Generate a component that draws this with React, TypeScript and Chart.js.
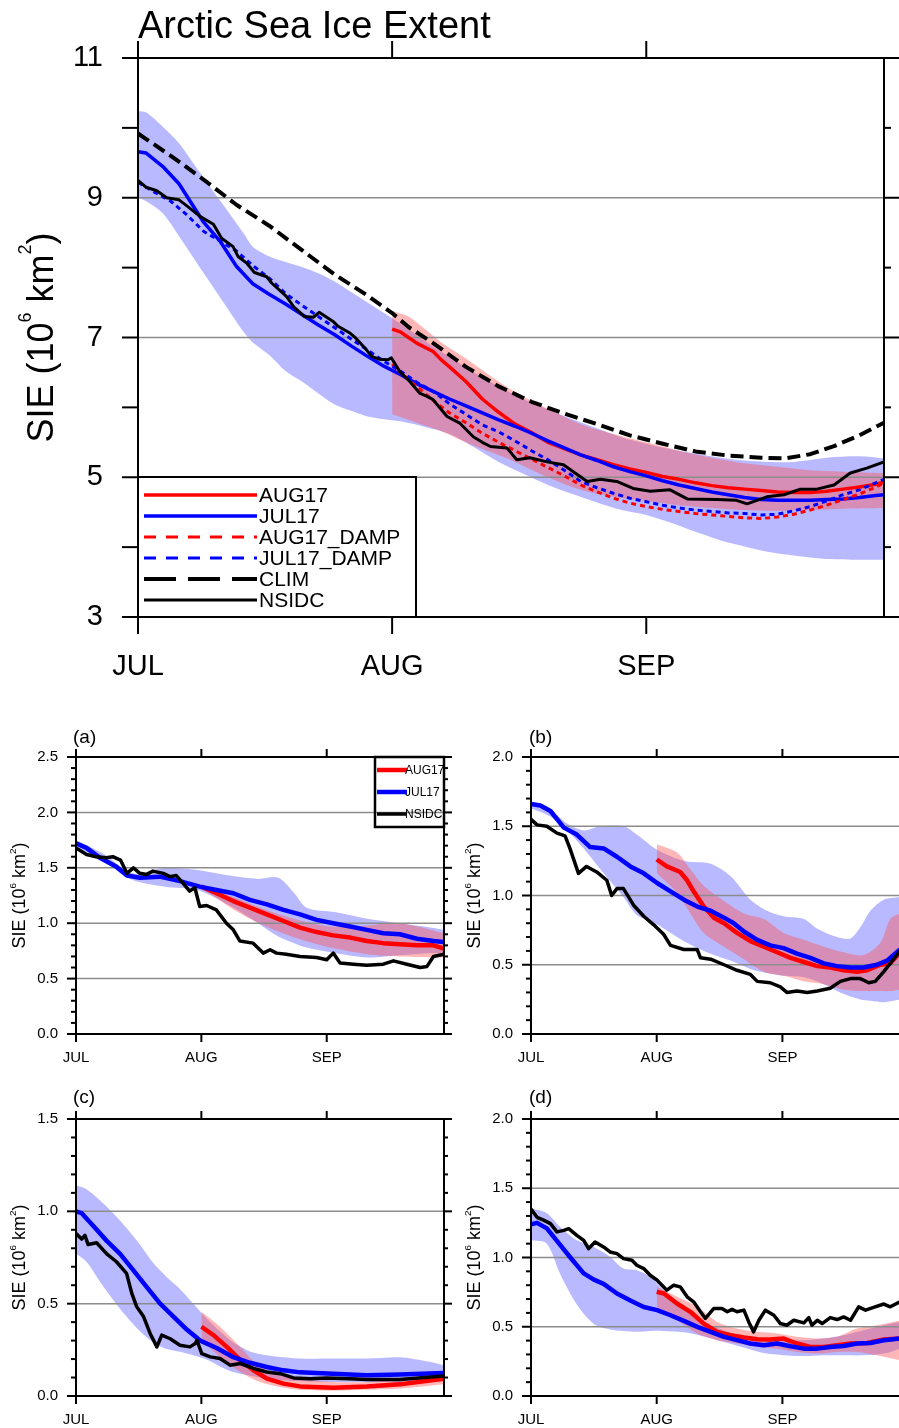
import React, { useEffect, useRef } from 'react';
import { Chart, registerables } from 'chart.js';

Chart.register(...registerables);

const FONT = '"Liberation Sans", Arial, Helvetica, sans-serif';

// ---------- axis categories / tick labels ----------
const MONTH_TICKS = [0, 31, 62];
const MONTH_LABELS = ['JUL', 'AUG', 'SEP'];
const DAY_MAX = 91;
const MAIN_Y_MAJORS = [3, 5, 7, 9, 11];
const MAIN_Y_MINORS = [4, 6, 8, 10];
const MAIN_GRID = [5, 7, 9];

// ---------- main panel data ----------
const MAIN_AUG17_DAYS = [31, 32, 33, 34, 36, 37, 38, 40, 42, 44, 46, 48, 50, 52, 54, 56, 58, 60, 62, 64, 66, 68, 70, 72, 74, 76, 78, 80, 82, 84, 86, 88, 90, 91];
const MAIN_AUG17 = [7.12, 7.08, 7.0, 6.92, 6.8, 6.68, 6.58, 6.37, 6.12, 5.93, 5.76, 5.64, 5.5, 5.41, 5.32, 5.25, 5.18, 5.12, 5.07, 5.01, 4.97, 4.92, 4.88, 4.85, 4.83, 4.81, 4.79, 4.78, 4.78, 4.8, 4.83, 4.86, 4.9, 4.93];

const MAIN_JUL17_DAYS = [0, 1, 3, 5, 8, 10, 12, 14, 16, 18, 20, 22, 24, 26, 28, 30, 32, 34, 36, 38, 40, 42, 44, 46, 48, 50, 52, 54, 56, 58, 60, 62, 64, 66, 68, 70, 72, 74, 76, 78, 80, 82, 84, 86, 88, 90, 91];
const MAIN_JUL17 = [9.66, 9.64, 9.45, 9.2, 8.65, 8.38, 8.02, 7.77, 7.62, 7.48, 7.33, 7.18, 7.04, 6.88, 6.73, 6.59, 6.47, 6.34, 6.23, 6.12, 6.02, 5.92, 5.82, 5.73, 5.63, 5.52, 5.42, 5.32, 5.24, 5.15, 5.08, 5.02, 4.95, 4.89, 4.84, 4.79, 4.75, 4.71, 4.68, 4.67, 4.67, 4.67, 4.68, 4.69, 4.71, 4.74, 4.75];

const MAIN_AUG17_DAMP_DAYS = [31, 32, 34, 36, 38, 40, 42, 44, 46, 48, 50, 52, 54, 56, 58, 60, 62, 64, 66, 68, 70, 72, 74, 76, 78, 80, 82, 84, 86, 88, 90, 91];
const MAIN_AUG17_DAMP = [6.62, 6.5, 6.3, 6.1, 5.92, 5.78, 5.63, 5.5, 5.38, 5.26, 5.14, 5.02, 4.89, 4.79, 4.7, 4.63, 4.58, 4.54, 4.51, 4.48, 4.46, 4.44, 4.42, 4.41, 4.43, 4.47, 4.53, 4.6, 4.68, 4.76, 4.86, 4.92];

const MAIN_JUL17_DAMP_DAYS = [0, 2, 4, 6, 8, 10, 12, 14, 16, 18, 20, 22, 24, 26, 28, 30, 32, 34, 36, 38, 40, 42, 44, 46, 48, 50, 52, 54, 56, 58, 60, 62, 64, 66, 68, 70, 72, 74, 76, 78, 80, 82, 84, 86, 88, 90, 91];
const MAIN_JUL17_DAMP = [9.22, 9.08, 8.95, 8.75, 8.52, 8.38, 8.24, 8.03, 7.85, 7.63, 7.46, 7.3, 7.14, 6.98, 6.82, 6.66, 6.52, 6.36, 6.23, 6.05, 5.9, 5.75, 5.65, 5.52, 5.38, 5.25, 5.1, 4.94, 4.85, 4.77, 4.7, 4.65, 4.6, 4.56, 4.53, 4.51, 4.49, 4.48, 4.46, 4.47, 4.52, 4.58, 4.66, 4.75, 4.82, 4.92, 4.97];

const MAIN_CLIM_DAYS = [0, 4, 8, 12, 16, 20, 24, 28, 31, 33, 36, 40, 44, 48, 52, 56, 60, 64, 68, 72, 76, 79, 82, 85, 88, 91];
const MAIN_CLIM = [9.92, 9.6, 9.26, 8.9, 8.6, 8.25, 7.9, 7.6, 7.35, 7.15, 6.92, 6.58, 6.3, 6.08, 5.91, 5.76, 5.6, 5.48, 5.37, 5.31, 5.28, 5.27, 5.33, 5.45, 5.6, 5.78];

const MAIN_NSIDC_DAYS = [0, 1, 2.3, 3.5, 5, 6, 7.6, 9.2, 10.2, 11.6, 12.2, 13.3, 14.2, 15.7, 16.3, 18.1, 19, 20.3, 21.4, 22.1, 23.8, 24.4, 25.9, 26.4, 27.9, 28.5, 29.4, 30.5, 30.9, 32, 33, 34.4, 35.2, 36, 37.7, 39.3, 40.9, 42, 43, 45, 46.2, 47.8, 49.9, 51.9, 53.1, 54.8, 56.4, 58.4, 60.4, 62.5, 64.9, 67, 70.6, 73, 74.3, 76.7, 78.8, 80.8, 82.8, 84.9, 86.9, 88.9, 91];
const MAIN_NSIDC = [9.25, 9.15, 9.1, 9.0, 8.97, 8.88, 8.73, 8.62, 8.42, 8.3, 8.16, 8.06, 7.93, 7.87, 7.78, 7.59, 7.44, 7.3, 7.29, 7.36, 7.23, 7.16, 7.06, 7.01, 6.82, 6.73, 6.69, 6.68, 6.71, 6.5, 6.39, 6.2, 6.16, 6.11, 5.87, 5.77, 5.58, 5.5, 5.44, 5.42, 5.25, 5.28, 5.22, 5.18, 5.08, 4.94, 4.97, 4.94, 4.84, 4.8, 4.82, 4.69, 4.68, 4.67, 4.62, 4.72, 4.75, 4.83, 4.83, 4.89, 5.06, 5.13, 5.22];

const MAIN_BLUE_BAND_DAYS = [0, 1, 3, 5, 7, 9, 11, 13, 14, 16, 18, 20, 22, 24, 26, 28, 30, 32, 35, 38, 41, 44, 47, 50, 53, 56, 59, 62, 65, 68, 71, 74, 77, 80, 84, 88, 91];
const MAIN_BLUE_HI = [10.24, 10.22, 10.02, 9.78, 9.45, 9.12, 8.8, 8.47, 8.3, 8.16, 8.08, 8.01, 7.92, 7.8, 7.65, 7.5, 7.35, 7.2, 6.95, 6.72, 6.5, 6.3, 6.12, 5.97, 5.83, 5.7, 5.57, 5.48, 5.4, 5.34, 5.28, 5.24, 5.22, 5.22, 5.28, 5.3, 5.27];
const MAIN_BLUE_LO = [9.0, 8.95, 8.78, 8.45, 8.1, 7.75, 7.4, 7.06, 6.93, 6.75, 6.52, 6.37, 6.2, 6.04, 5.95, 5.87, 5.83, 5.8, 5.72, 5.62, 5.43, 5.22, 5.05, 4.89, 4.76, 4.64, 4.53, 4.46, 4.35, 4.22, 4.1, 4.01, 3.93, 3.88, 3.83, 3.82, 3.82];

const MAIN_RED_BAND_DAYS = [31, 33, 35, 37, 40, 43, 46, 50, 54, 58, 62, 66, 70, 74, 78, 82, 86, 91];
const MAIN_RED_HI = [7.38, 7.3, 7.12, 6.93, 6.7, 6.45, 6.22, 5.98, 5.76, 5.62, 5.5, 5.38, 5.28, 5.2, 5.15, 5.1, 5.08, 5.06];
const MAIN_RED_LO = [5.9, 5.82, 5.74, 5.66, 5.5, 5.36, 5.22, 5.0, 4.82, 4.72, 4.66, 4.6, 4.56, 4.53, 4.52, 4.53, 4.55, 4.56];

// ---------- panel (a) ----------
const A_Y_MAJORS = [0, 0.5, 1.0, 1.5, 2.0, 2.5];
const A_GRID = [0.5, 1.0, 1.5, 2.0];
const A_JUL17_DAYS = [0, 2.6, 5.9, 10, 12.6, 15.8, 20.7, 25.7, 30.6, 34.7, 38.9, 43, 47.2, 51.3, 55.4, 59.5, 63.6, 67.8, 71.9, 76, 80.1, 84.3, 88.4, 91];
const A_JUL17 = [1.72, 1.68, 1.59, 1.51, 1.43, 1.41, 1.42, 1.38, 1.33, 1.3, 1.27, 1.21, 1.17, 1.12, 1.08, 1.03, 1.0, 0.97, 0.94, 0.91, 0.9, 0.86, 0.84, 0.83];
const A_AUG17_DAYS = [31, 34.7, 38.9, 43, 47.2, 51.3, 55.4, 59.5, 63.6, 67.8, 71.9, 76, 80.1, 84.3, 88.4, 91];
const A_AUG17 = [1.33, 1.27, 1.2, 1.14, 1.08, 1.02, 0.96, 0.92, 0.89, 0.87, 0.84, 0.82, 0.81, 0.8, 0.8, 0.77];
const A_NSIDC_DAYS = [0, 2.6, 5, 7.5, 9.1, 11, 12.6, 14.2, 15.8, 17.4, 19, 21.6, 23.2, 24.8, 26.5, 28.1, 29.4, 30.6, 32.3, 34.7, 37.2, 38.9, 40.5, 43.8, 46.3, 48, 49.6, 52, 55.4, 59.5, 62, 63.6, 65.3, 68.6, 71.9, 76, 78.5, 81.8, 85.1, 86.8, 88.4, 91];
const A_NSIDC = [1.68, 1.62, 1.6, 1.59, 1.6, 1.57, 1.45, 1.5, 1.45, 1.44, 1.47, 1.45, 1.42, 1.43, 1.36, 1.29, 1.32, 1.15, 1.16, 1.12, 1.0, 0.94, 0.84, 0.82, 0.73, 0.76, 0.73, 0.72, 0.7, 0.69, 0.67, 0.73, 0.64, 0.63, 0.62, 0.63, 0.66, 0.63, 0.6, 0.61, 0.7, 0.72];
const A_BLUE_BAND_DAYS = [0, 7, 14, 22, 30, 38, 45, 50, 54, 57, 64, 72, 80, 88, 91];
const A_BLUE_HI = [1.75, 1.62, 1.45, 1.5, 1.48, 1.43, 1.4, 1.41, 1.27, 1.14, 1.1, 1.04, 1.0, 0.96, 0.94];
const A_BLUE_LO = [1.69, 1.55, 1.39, 1.33, 1.3, 1.16, 1.0, 0.88, 0.82, 0.78, 0.73, 0.69, 0.71, 0.73, 0.73];
const A_RED_BAND_DAYS = [31, 40, 47, 55, 63, 72, 80, 91];
const A_RED_HI = [1.35, 1.22, 1.12, 1.03, 0.97, 0.98, 1.0, 0.91];
const A_RED_LO = [1.32, 1.1, 0.97, 0.86, 0.78, 0.72, 0.7, 0.69];

// ---------- panel (b) ----------
const B_Y_MAJORS = [0, 0.5, 1.0, 1.5, 2.0];
const B_GRID = [0.5, 1.0, 1.5];
const B_JUL17_DAYS = [0, 2.3, 4.8, 8.1, 11.3, 14.6, 17.9, 21.2, 24.5, 27.8, 31.1, 34.4, 37.7, 41, 44.3, 47.6, 50, 52.5, 55.8, 59, 62.3, 65.6, 68.9, 72.2, 75.5, 78.8, 82, 85.3, 87.8, 91];
const B_JUL17 = [1.66, 1.65, 1.61, 1.49, 1.44, 1.35, 1.34, 1.28, 1.21, 1.16, 1.09, 1.03, 0.97, 0.92, 0.89, 0.84, 0.8, 0.74, 0.68, 0.64, 0.62, 0.58, 0.55, 0.51, 0.49, 0.48, 0.48, 0.5, 0.53, 0.61];
const B_AUG17_DAYS = [31, 33.5, 36.8, 38.5, 40.1, 42.6, 45.1, 47.6, 50.8, 54.1, 57.4, 60.7, 64, 67.3, 70.6, 73.8, 77.1, 80.4, 82.9, 86.2, 88.6, 91];
const B_AUG17 = [1.26, 1.21, 1.17, 1.11, 1.03, 0.92, 0.84, 0.8, 0.73, 0.67, 0.63, 0.59, 0.55, 0.52, 0.49, 0.48, 0.46, 0.45, 0.46, 0.5, 0.51, 0.59];
const B_NSIDC_DAYS = [0, 1.5, 3.9, 6.4, 8.4, 9.6, 11.7, 13.7, 16.2, 18.7, 19.9, 21.2, 22.8, 25.3, 27.8, 30.2, 32.7, 34.4, 37.7, 41, 41.8, 44.3, 47.6, 50.8, 54.1, 55.8, 59, 61.5, 63.1, 65.6, 68.1, 70.6, 73.8, 76.3, 78.8, 81.2, 83.3, 84.9, 87, 89.4, 91];
const B_NSIDC = [1.55, 1.51, 1.5, 1.45, 1.43, 1.34, 1.16, 1.21, 1.17, 1.11, 1.0, 1.05, 1.05, 0.93, 0.85, 0.79, 0.72, 0.64, 0.61, 0.61, 0.55, 0.54, 0.5, 0.46, 0.43, 0.38, 0.37, 0.34, 0.3, 0.31, 0.3, 0.31, 0.33, 0.38, 0.4, 0.4, 0.37, 0.38, 0.45, 0.54, 0.6];
const B_BLUE_BAND_DAYS = [0, 4.8, 8.9, 13, 17.1, 22.8, 26.1, 31.1, 37.7, 44.3, 49.2, 54.1, 58.2, 62.3, 67.3, 70.6, 75.5, 78.8, 81.2, 83.7, 87, 91];
const B_BLUE_HI = [1.68, 1.62, 1.52, 1.47, 1.5, 1.5, 1.44, 1.33, 1.25, 1.23, 1.14, 0.97, 0.89, 0.85, 0.83, 0.76, 0.7, 0.69, 0.77, 0.89, 0.97, 0.99];
const B_BLUE_LO = [1.63, 1.57, 1.47, 1.34, 1.19, 0.99, 0.86, 0.79, 0.67, 0.58, 0.53, 0.47, 0.44, 0.42, 0.41, 0.38, 0.31, 0.27, 0.25, 0.24, 0.23, 0.25];
const B_RED_BAND_DAYS = [31, 36, 39.3, 42.6, 47.6, 52.5, 57.4, 62.3, 67.3, 72.2, 77.1, 82, 86.2, 88.6, 91];
const B_RED_HI = [1.37, 1.31, 1.19, 1.07, 0.96, 0.87, 0.83, 0.73, 0.68, 0.63, 0.59, 0.57, 0.66, 0.83, 0.87];
const B_RED_LO = [1.16, 1.02, 0.87, 0.73, 0.63, 0.54, 0.45, 0.42, 0.38, 0.36, 0.32, 0.31, 0.31, 0.31, 0.32];

// ---------- panel (c) ----------
const C_Y_MAJORS = [0, 0.5, 1.0, 1.5];
const C_GRID = [0.5, 1.0];
const C_JUL17_DAYS = [0, 1.4, 4.3, 7.6, 10.9, 14.2, 17.5, 20.8, 24.1, 27.4, 30.7, 34.8, 38.9, 43, 47.2, 51.3, 55.4, 63.6, 71.9, 80.1, 91];
const C_JUL17 = [1.0, 0.99, 0.92, 0.84, 0.77, 0.68, 0.59, 0.5, 0.43, 0.36, 0.3, 0.26, 0.21, 0.18, 0.157, 0.139, 0.128, 0.121, 0.112, 0.116, 0.125];
const C_AUG17_DAYS = [31, 34, 37.3, 40.6, 43.9, 47.2, 51.3, 55.4, 63.6, 71.9, 80.1, 91];
const C_AUG17 = [0.375, 0.33, 0.266, 0.194, 0.139, 0.094, 0.067, 0.052, 0.045, 0.052, 0.063, 0.094];
const C_NSIDC_DAYS = [0, 1.4, 2.2, 3, 5.1, 7.6, 10, 12.5, 13.8, 15, 16.7, 18.3, 20, 21.2, 23.3, 25.7, 28.2, 29.5, 29.9, 31.1, 33.2, 35.6, 38.1, 40.6, 43.9, 47.2, 50.5, 53.8, 57.9, 62, 67.8, 71.9, 80.1, 91];
const C_NSIDC = [0.88, 0.85, 0.87, 0.82, 0.83, 0.77, 0.727, 0.664, 0.556, 0.484, 0.43, 0.34, 0.266, 0.33, 0.31, 0.275, 0.266, 0.284, 0.302, 0.23, 0.212, 0.203, 0.167, 0.176, 0.149, 0.13, 0.121, 0.098, 0.094, 0.098, 0.094, 0.089, 0.09, 0.108];
const C_BLUE_BAND_DAYS = [0, 2.6, 5.9, 9.2, 12.5, 15.8, 19.1, 22.4, 25.7, 29, 32.3, 35.6, 38.9, 43.8, 48.8, 55.4, 63.6, 71.9, 80.1, 86.7, 91];
const C_BLUE_HI = [1.14, 1.12, 1.06, 0.99, 0.91, 0.82, 0.72, 0.645, 0.58, 0.5, 0.42, 0.35, 0.29, 0.235, 0.215, 0.203, 0.203, 0.203, 0.21, 0.188, 0.167];
const C_BLUE_LO = [0.77, 0.727, 0.62, 0.52, 0.43, 0.35, 0.29, 0.255, 0.24, 0.221, 0.197, 0.16, 0.13, 0.107, 0.089, 0.08, 0.076, 0.076, 0.076, 0.08, 0.085];
const C_RED_BAND_DAYS = [31, 35.6, 40.6, 45.5, 50.5, 55.4, 63.6, 71.9, 80.1, 91];
const C_RED_HI = [0.456, 0.375, 0.266, 0.158, 0.112, 0.094, 0.076, 0.076, 0.089, 0.121];
const C_RED_LO = [0.302, 0.212, 0.13, 0.076, 0.049, 0.034, 0.03, 0.034, 0.04, 0.063];

// ---------- panel (d) ----------
const D_Y_MAJORS = [0, 0.5, 1.0, 1.5, 2.0];
const D_GRID = [0.5, 1.0, 1.5];
const D_JUL17_DAYS = [0, 1.5, 3.9, 6.4, 9.7, 13, 15.5, 17.9, 21.2, 24.5, 27.8, 31.1, 34.4, 37.7, 41, 44.3, 47.6, 50.8, 54.1, 57.4, 60.7, 64, 67.3, 70.6, 73.8, 77.1, 80.4, 83.7, 87, 91];
const D_JUL17 = [1.24, 1.25, 1.21, 1.12, 1.0, 0.885, 0.84, 0.81, 0.74, 0.69, 0.643, 0.62, 0.583, 0.542, 0.499, 0.463, 0.427, 0.403, 0.379, 0.366, 0.379, 0.359, 0.342, 0.342, 0.354, 0.361, 0.379, 0.383, 0.403, 0.415];
const D_AUG17_DAYS = [31, 32.8, 36, 39.3, 42.6, 45.9, 49.2, 52.5, 55.8, 59, 62.3, 65.6, 68.9, 72.2, 75.5, 78.8, 82.9, 87, 91];
const D_AUG17 = [0.752, 0.74, 0.668, 0.608, 0.523, 0.463, 0.439, 0.422, 0.41, 0.408, 0.415, 0.379, 0.354, 0.354, 0.366, 0.379, 0.383, 0.408, 0.415];
const D_NSIDC_DAYS = [0, 1.5, 3.1, 4.8, 6.4, 8.1, 9.3, 11.3, 13, 14.2, 15.8, 17.9, 19.5, 21.2, 22.8, 24.9, 26.1, 27.8, 29.4, 31.1, 33.5, 35.2, 36.8, 38.5, 40.1, 41.8, 43, 45.1, 47.1, 48.4, 49.6, 50.8, 52.5, 53.7, 54.9, 56.2, 57.8, 59.9, 61.5, 63.1, 64.8, 67.3, 68.5, 69.3, 70.6, 71.8, 73.8, 75.5, 77.1, 78.8, 80.8, 82.5, 84.5, 87, 88.6, 91];
const D_NSIDC = [1.35, 1.29, 1.27, 1.245, 1.185, 1.196, 1.208, 1.16, 1.124, 1.064, 1.112, 1.076, 1.04, 1.028, 0.992, 0.98, 0.944, 0.92, 0.872, 0.836, 0.764, 0.8, 0.788, 0.716, 0.68, 0.608, 0.56, 0.632, 0.632, 0.608, 0.625, 0.608, 0.62, 0.535, 0.463, 0.547, 0.62, 0.583, 0.523, 0.511, 0.547, 0.528, 0.566, 0.511, 0.547, 0.523, 0.566, 0.552, 0.571, 0.547, 0.644, 0.62, 0.64, 0.664, 0.644, 0.68];
const D_BLUE_BAND_DAYS = [0, 3.9, 7.2, 11.3, 15.5, 19.5, 22.8, 26.1, 29.4, 32.7, 37.7, 42.6, 47.6, 52.5, 57.4, 62.3, 67.3, 72.2, 77.1, 82, 87, 91];
const D_BLUE_HI = [1.355, 1.32, 1.22, 1.124, 1.076, 1.004, 0.92, 0.908, 0.86, 0.764, 0.644, 0.535, 0.475, 0.427, 0.403, 0.403, 0.403, 0.415, 0.439, 0.475, 0.511, 0.535];
const D_BLUE_LO = [1.124, 1.1, 0.88, 0.66, 0.52, 0.48, 0.47, 0.463, 0.47, 0.47, 0.46, 0.43, 0.39, 0.35, 0.31, 0.295, 0.288, 0.294, 0.294, 0.294, 0.306, 0.342];
const D_RED_BAND_DAYS = [31, 36, 41, 45.9, 50.8, 55.8, 60.7, 65.6, 70.6, 75.5, 80.4, 85.3, 91];
const D_RED_HI = [0.788, 0.716, 0.644, 0.535, 0.487, 0.463, 0.451, 0.427, 0.415, 0.427, 0.487, 0.511, 0.543];
const D_RED_LO = [0.644, 0.547, 0.451, 0.403, 0.379, 0.354, 0.342, 0.318, 0.306, 0.318, 0.318, 0.294, 0.258];

// ---------- styles ----------
const RED = '#ff0000';
const BLUE = '#0000ff';
const BLACK = '#000000';
const BLUE_BAND = 'rgba(100,100,255,0.45)';
const RED_BAND = 'rgba(255,80,80,0.42)';
const GRID_COLOR = '#8c8c8c';

type LineSpec = { label: string; days: number[]; vals: number[]; color: string; width: number; dash?: number[]; legendDash?: number[] };
type BandSpec = { days: number[]; hi: number[]; lo: number[]; fill: string };
type Box = { left: number; top: number; right: number; bottom: number };
type PanelSpec = {
  canvas: { left: number; top: number; width: number; height: number };
  plot: Box;
  yMin: number; yMax: number; yMajors: number[]; yMinorStep: number; grid: number[]; decimals: number;
  xFont: number; yFont: number; xPad: number; yPad: number;
  tickL: number; tickLMinor: number; tickR: number; tickRMinor: number; tickX: number;
  borderW: number; gridW: number;
  lines: LineSpec[]; bands: BandSpec[];
  title?: { text: string; x: number; y: number; size: number };
  yTitle: { x: number; size: number; supScale: number; supRaise: number };
  legend?: { box: Box; rows: number[]; x0: number; x1: number; textX: number; size: number; boxW: number };
};

const pts = (d: number[], v: number[]) => d.map((x, i) => ({ x, y: v[i] }));

const panelLines = (j: [number[], number[]], a: [number[], number[]], n: [number[], number[]]): LineSpec[] => [
  { label: 'AUG17', days: a[0], vals: a[1], color: RED, width: 4.5 },
  { label: 'JUL17', days: j[0], vals: j[1], color: BLUE, width: 4.5 },
  { label: 'NSIDC', days: n[0], vals: n[1], color: BLACK, width: 3.5 },
];

const panelBase = {
  yMinorStep: 0.1, decimals: 1, xFont: 15, yFont: 15, xPad: 15, yPad: 18,
  tickL: 9, tickLMinor: 5, tickR: 8, tickRMinor: 4, tickX: 8, borderW: 2, gridW: 1.5,
};

const SPECS: PanelSpec[] = [
  {
    canvas: { left: 0, top: 0, width: 899, height: 700 },
    plot: { left: 138, top: 58, right: 884, bottom: 617 },
    yMin: 3, yMax: 11, yMajors: MAIN_Y_MAJORS, yMinorStep: 0, grid: MAIN_GRID, decimals: 0,
    xFont: 29, yFont: 29, xPad: 33, yPad: 35,
    tickL: 16, tickLMinor: 16, tickR: 15, tickRMinor: 7, tickX: 17, borderW: 2, gridW: 1.5,
    lines: [
      { label: 'AUG17', days: MAIN_AUG17_DAYS, vals: MAIN_AUG17, color: RED, width: 3.5 },
      { label: 'JUL17', days: MAIN_JUL17_DAYS, vals: MAIN_JUL17, color: BLUE, width: 3.5 },
      { label: 'AUG17_DAMP', days: MAIN_AUG17_DAMP_DAYS, vals: MAIN_AUG17_DAMP, color: RED, width: 3, dash: [5, 4], legendDash: [12, 10] },
      { label: 'JUL17_DAMP', days: MAIN_JUL17_DAMP_DAYS, vals: MAIN_JUL17_DAMP, color: BLUE, width: 3, dash: [5, 4], legendDash: [12, 10] },
      { label: 'CLIM', days: MAIN_CLIM_DAYS, vals: MAIN_CLIM, color: BLACK, width: 4, dash: [13, 6], legendDash: [32, 12] },
      { label: 'NSIDC', days: MAIN_NSIDC_DAYS, vals: MAIN_NSIDC, color: BLACK, width: 3 },
    ],
    bands: [
      { days: MAIN_BLUE_BAND_DAYS, hi: MAIN_BLUE_HI, lo: MAIN_BLUE_LO, fill: BLUE_BAND },
      { days: MAIN_RED_BAND_DAYS, hi: MAIN_RED_HI, lo: MAIN_RED_LO, fill: RED_BAND },
    ],
    title: { text: 'Arctic Sea Ice Extent', x: 138, y: 38, size: 38 },
    yTitle: { x: 53, size: 36, supScale: 0.5, supRaise: 0.62 },
    legend: { box: { left: 138, top: 477, right: 416, bottom: 617 }, rows: [495, 516, 537, 558, 579, 600], x0: 144, x1: 257, textX: 259, size: 21, boxW: 2 },
  },
  {
    ...panelBase,
    canvas: { left: 0, top: 700, width: 460, height: 380 },
    plot: { left: 76, top: 757, right: 444, bottom: 1034 },
    yMin: 0, yMax: 2.5, yMajors: A_Y_MAJORS, grid: A_GRID,
    lines: panelLines([A_JUL17_DAYS, A_JUL17], [A_AUG17_DAYS, A_AUG17], [A_NSIDC_DAYS, A_NSIDC]),
    bands: [
      { days: A_BLUE_BAND_DAYS, hi: A_BLUE_HI, lo: A_BLUE_LO, fill: BLUE_BAND },
      { days: A_RED_BAND_DAYS, hi: A_RED_HI, lo: A_RED_LO, fill: RED_BAND },
    ],
    title: { text: '(a)', x: 73, y: 743, size: 19 },
    yTitle: { x: 25, size: 18, supScale: 0.55, supRaise: 0.48 },
    legend: { box: { left: 375, top: 757, right: 444, bottom: 827 }, rows: [770, 792, 814], x0: 377, x1: 407, textX: 405, size: 12, boxW: 2.5 },
  },
  {
    ...panelBase,
    canvas: { left: 450, top: 700, width: 451, height: 380 },
    plot: { left: 531, top: 757, right: 900, bottom: 1034 },
    yMin: 0, yMax: 2.0, yMajors: B_Y_MAJORS, grid: B_GRID,
    lines: panelLines([B_JUL17_DAYS, B_JUL17], [B_AUG17_DAYS, B_AUG17], [B_NSIDC_DAYS, B_NSIDC]),
    bands: [
      { days: B_BLUE_BAND_DAYS, hi: B_BLUE_HI, lo: B_BLUE_LO, fill: BLUE_BAND },
      { days: B_RED_BAND_DAYS, hi: B_RED_HI, lo: B_RED_LO, fill: RED_BAND },
    ],
    title: { text: '(b)', x: 529, y: 743, size: 19 },
    yTitle: { x: 480, size: 18, supScale: 0.55, supRaise: 0.48 },
  },
  {
    ...panelBase,
    canvas: { left: 0, top: 1080, width: 460, height: 348 },
    plot: { left: 76, top: 1119, right: 444, bottom: 1396 },
    yMin: 0, yMax: 1.5, yMajors: C_Y_MAJORS, grid: C_GRID,
    lines: panelLines([C_JUL17_DAYS, C_JUL17], [C_AUG17_DAYS, C_AUG17], [C_NSIDC_DAYS, C_NSIDC]),
    bands: [
      { days: C_BLUE_BAND_DAYS, hi: C_BLUE_HI, lo: C_BLUE_LO, fill: BLUE_BAND },
      { days: C_RED_BAND_DAYS, hi: C_RED_HI, lo: C_RED_LO, fill: RED_BAND },
    ],
    title: { text: '(c)', x: 73, y: 1103, size: 19 },
    yTitle: { x: 25, size: 18, supScale: 0.55, supRaise: 0.48 },
  },
  {
    ...panelBase,
    canvas: { left: 450, top: 1080, width: 451, height: 348 },
    plot: { left: 531, top: 1119, right: 900, bottom: 1396 },
    yMin: 0, yMax: 2.0, yMajors: D_Y_MAJORS, grid: D_GRID,
    lines: panelLines([D_JUL17_DAYS, D_JUL17], [D_AUG17_DAYS, D_AUG17], [D_NSIDC_DAYS, D_NSIDC]),
    bands: [
      { days: D_BLUE_BAND_DAYS, hi: D_BLUE_HI, lo: D_BLUE_LO, fill: BLUE_BAND },
      { days: D_RED_BAND_DAYS, hi: D_RED_HI, lo: D_RED_LO, fill: RED_BAND },
    ],
    title: { text: '(d)', x: 529, y: 1103, size: 19 },
    yTitle: { x: 480, size: 18, supScale: 0.55, supRaise: 0.48 },
  },
];

function minorTicks(spec: PanelSpec): number[] {
  if (spec === SPECS[0]) return MAIN_Y_MINORS;
  const out: number[] = [];
  const n = Math.round((spec.yMax - spec.yMin) / spec.yMinorStep);
  for (let i = 0; i <= n; i++) {
    const v = spec.yMin + i * spec.yMinorStep;
    if (!spec.yMajors.some((m) => Math.abs(m - v) < 1e-6)) out.push(v);
  }
  return out;
}

function drawYTitle(ctx: CanvasRenderingContext2D, bx: number, cy: number, size: number, supScale: number, supRaise: number) {
  const parts = [
    { t: 'SIE (10', sup: false },
    { t: '6', sup: true },
    { t: ' km', sup: false },
    { t: '2', sup: true },
    { t: ')', sup: false },
  ];
  const fontOf = (sup: boolean) => `${sup ? size * supScale : size}px ${FONT}`;
  let total = 0;
  const widths = parts.map((p) => {
    ctx.font = fontOf(p.sup);
    const w = ctx.measureText(p.t).width;
    total += w;
    return w;
  });
  ctx.save();
  ctx.translate(bx, cy);
  ctx.rotate(-Math.PI / 2);
  ctx.fillStyle = '#000';
  ctx.textBaseline = 'alphabetic';
  ctx.textAlign = 'left';
  let x = -total / 2;
  parts.forEach((p, i) => {
    ctx.font = fontOf(p.sup);
    ctx.fillText(p.t, x, p.sup ? -size * supRaise : 0);
    x += widths[i];
  });
  ctx.restore();
}

function buildChart(canvas: HTMLCanvasElement, spec: PanelSpec): Chart {
  const ox = spec.canvas.left;
  const oy = spec.canvas.top;
  const yW = spec.plot.left - ox;
  const padTop = spec.plot.top - oy;
  const padRight = ox + spec.canvas.width - spec.plot.right;
  const xH = oy + spec.canvas.height - spec.plot.bottom;
  const minors = minorTicks(spec);

  const datasets: any[] = [];
  spec.lines.forEach((l, i) => {
    datasets.push({
      label: l.label,
      data: pts(l.days, l.vals),
      borderColor: l.color,
      borderWidth: l.width,
      borderDash: l.dash || [],
      borderCapStyle: 'butt',
      borderJoinStyle: 'round',
      pointRadius: 0,
      tension: 0,
      fill: false,
      order: -i,
    });
  });
  let gridAfter = -1;
  spec.bands.forEach((b, i) => {
    const hiIdx = datasets.length;
    datasets.push({
      label: 'band-hi-' + i,
      data: pts(b.days, b.hi),
      borderColor: 'rgba(0,0,0,0)',
      borderWidth: 1,
      pointRadius: 0,
      tension: 0.3,
      backgroundColor: b.fill,
      fill: hiIdx + 1,
      order: 10 - 2 * i,
    });
    datasets.push({
      label: 'band-lo-' + i,
      data: pts(b.days, b.lo),
      borderColor: 'rgba(0,0,0,0)',
      borderWidth: 1,
      pointRadius: 0,
      tension: 0.3,
      fill: false,
      order: 9 - 2 * i,
    });
    gridAfter = hiIdx + 1;
  });

  const plugin = {
    id: 'nclFrame',
    afterDatasetDraw(chart: any, args: any) {
      if (args.index !== gridAfter) return;
      const ctx: CanvasRenderingContext2D = chart.ctx;
      const ca = chart.chartArea;
      const ys = chart.scales.y;
      ctx.save();
      ctx.strokeStyle = GRID_COLOR;
      ctx.lineWidth = spec.gridW;
      spec.grid.forEach((v) => {
        const py = ys.getPixelForValue(v);
        ctx.beginPath();
        ctx.moveTo(ca.left, py);
        ctx.lineTo(ca.right, py);
        ctx.stroke();
      });
      ctx.restore();
    },
    afterDraw(chart: any) {
      const ctx: CanvasRenderingContext2D = chart.ctx;
      const ca = chart.chartArea;
      const xs = chart.scales.x;
      const ys = chart.scales.y;
      ctx.save();
      ctx.strokeStyle = '#000';
      ctx.lineWidth = spec.borderW;
      ctx.setLineDash([]);
      ctx.strokeRect(ca.left, ca.top, ca.right - ca.left, ca.bottom - ca.top);
      const seg = (x0: number, y0: number, x1: number, y1: number) => {
        ctx.beginPath();
        ctx.moveTo(x0, y0);
        ctx.lineTo(x1, y1);
        ctx.stroke();
      };
      MONTH_TICKS.forEach((v) => {
        const px = xs.getPixelForValue(v);
        seg(px, ca.bottom, px, ca.bottom + spec.tickX);
        seg(px, ca.top, px, ca.top - spec.tickX);
      });
      spec.yMajors.forEach((v) => {
        const py = ys.getPixelForValue(v);
        seg(ca.left - spec.tickL, py, ca.left, py);
        seg(ca.right, py, ca.right + spec.tickR, py);
      });
      minors.forEach((v) => {
        const py = ys.getPixelForValue(v);
        seg(ca.left - spec.tickLMinor, py, ca.left, py);
        seg(ca.right, py, ca.right + spec.tickRMinor, py);
      });

      // legend
      if (spec.legend) {
        const lg = spec.legend;
        ctx.lineWidth = lg.boxW;
        ctx.strokeRect(lg.box.left - ox, lg.box.top - oy, lg.box.right - lg.box.left, lg.box.bottom - lg.box.top);
        spec.lines.forEach((l, i) => {
          const y = lg.rows[i] - oy;
          ctx.strokeStyle = l.color;
          ctx.lineWidth = l.width;
          ctx.setLineDash(l.legendDash || []);
          seg(lg.x0 - ox, y, lg.x1 - ox, y);
          ctx.setLineDash([]);
          ctx.fillStyle = '#000';
          ctx.font = `${lg.size}px ${FONT}`;
          ctx.textBaseline = 'middle';
          ctx.textAlign = 'left';
          ctx.fillText(l.label, lg.textX - ox, y + 1);
        });
      }

      // titles
      if (spec.title) {
        ctx.fillStyle = '#000';
        ctx.font = `${spec.title.size}px ${FONT}`;
        ctx.textBaseline = 'alphabetic';
        ctx.textAlign = 'left';
        ctx.fillText(spec.title.text, spec.title.x - ox, spec.title.y - oy);
      }
      const cy = (ca.top + ca.bottom) / 2;
      drawYTitle(ctx, spec.yTitle.x - ox, cy, spec.yTitle.size, spec.yTitle.supScale, spec.yTitle.supRaise);
      ctx.restore();
    },
  };

  return new Chart(canvas, {
    type: 'line',
    data: { datasets },
    options: {
      animation: false,
      responsive: false,
      devicePixelRatio: 1,
      events: [],
      layout: { padding: { left: 0, top: padTop, right: padRight, bottom: 0 } },
      plugins: {
        legend: { display: false },
        tooltip: { enabled: false },
        title: { display: false },
        filler: { propagate: false, drawTime: 'beforeDatasetDraw' },
      },
      scales: {
        x: {
          type: 'linear',
          position: 'bottom',
          min: 0,
          max: DAY_MAX,
          grid: { display: false, drawTicks: false },
          border: { display: false },
          afterBuildTicks: (axis: any) => {
            axis.ticks = MONTH_TICKS.map((value) => ({ value }));
          },
          afterFit: (axis: any) => {
            axis.height = xH;
          },
          ticks: {
            autoSkip: false,
            maxRotation: 0,
            minRotation: 0,
            padding: spec.xPad,
            color: '#000',
            font: { family: FONT, size: spec.xFont },
            callback: (_v: any, i: number) => MONTH_LABELS[i],
          },
        },
        y: {
          type: 'linear',
          position: 'left',
          min: spec.yMin,
          max: spec.yMax,
          grid: { display: false, drawTicks: false },
          border: { display: false },
          afterBuildTicks: (axis: any) => {
            axis.ticks = spec.yMajors.map((value) => ({ value }));
          },
          afterFit: (axis: any) => {
            axis.width = yW;
          },
          ticks: {
            autoSkip: false,
            padding: spec.yPad,
            color: '#000',
            font: { family: FONT, size: spec.yFont },
            callback: (v: any) => Number(v).toFixed(spec.decimals),
          },
        },
      },
    } as any,
    plugins: [plugin as any],
  });
}

function ChartCanvas({ spec }: { spec: PanelSpec }) {
  const ref = useRef<HTMLCanvasElement>(null);
  useEffect(() => {
    if (!ref.current) return;
    const chart = buildChart(ref.current, spec);
    return () => chart.destroy();
  }, [spec]);
  const c = spec.canvas;
  return (
    <canvas
      ref={ref}
      width={c.width}
      height={c.height}
      style={{ position: 'absolute', left: c.left, top: c.top, width: c.width, height: c.height }}
    />
  );
}

export default function App() {
  return (
    <div style={{ position: 'absolute', left: 0, top: 0, width: 899, height: 1428, overflow: 'hidden', background: '#ffffff' }}>
      {SPECS.map((s, i) => (
        <ChartCanvas key={i} spec={s} />
      ))}
    </div>
  );
}
